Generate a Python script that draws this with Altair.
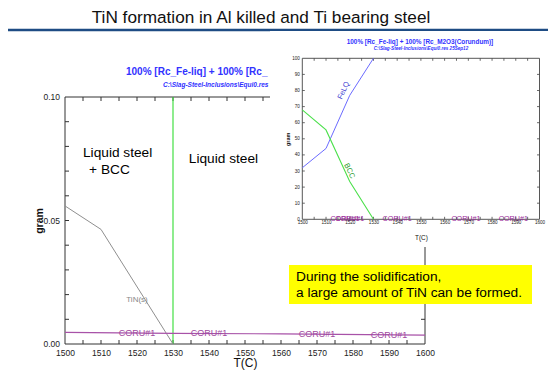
import altair as alt
import pandas as pd

# ---------------- data ----------------
SLIDE_TITLE = "TiN formation in Al killed and Ti bearing steel"
PLOT_TITLE = "100% [Rc_Fe-liq] +  100% [Rc_M2O3(Corundum)]"
PLOT_SUBTITLE = "C:\\Slag-Steel-Inclusions\\Equi0.res  25Sep12"
NOTE_LINES = ["During the solidification,", "a large amount of TiN can be formed."]

T_RANGE = [1500, 1600]
X_LABELS = [1500, 1510, 1520, 1530, 1540, 1550, 1560, 1570, 1580, 1590, 1600]
X_MINOR = [1505, 1510, 1515, 1520, 1525, 1530, 1535, 1540, 1545, 1550, 1555,
           1560, 1565, 1570, 1575, 1580, 1585, 1590, 1595]

MAIN_Y_RANGE = [0.0, 0.10]
MAIN_Y_LABELS = [0.0, 0.05, 0.10]
MAIN_Y_MINOR = [0.01, 0.02, 0.03, 0.04, 0.05, 0.06, 0.07, 0.08, 0.09]

TIN_T = [1500, 1510, 1530]
TIN_G = [0.0559, 0.0464, 0.0]
CORU_T = [1500, 1530, 1560, 1600]
CORU_G = [0.0047, 0.0043, 0.0041, 0.0036]
LIQUIDUS_T = [1530]

CORU_LABEL_T = [1520, 1540, 1570, 1590]
CORU_LABEL_G = [0.0044, 0.0043, 0.0040, 0.0037]
TIN_LABEL_T = [1520]
TIN_LABEL_G = [0.018]
REGION_TEXT = ["Liquid steel", "+ BCC", "Liquid steel"]
REGION_T = [1505.0, 1506.7, 1534.4]
REGION_G = [0.0773, 0.0704, 0.0749]

INSET_Y_RANGE = [0, 100]
INSET_Y_LABELS = [0, 10, 20, 30, 40, 50, 60, 70, 80, 90, 100]
INSET_Y_MINOR = [10, 20, 30, 40, 50, 60, 70, 80, 90]
INSET_T = [1500, 1510, 1520, 1530]
INSET_FELQ = [32, 44, 77, 100]
INSET_BCC = [68, 55.5, 23.5, 0]
INSET_CORU_LABEL_T = [1518, 1520, 1540, 1569, 1589]
INSET_CORU_LABEL_M = [0, 0, 0, 0, 0]
FELQ_LABEL = ["FeLQ", 1517.5, 80]
BCC_LABEL = ["BCC", 1519.8, 30]

# ---------------- layout (page pixels -> plot pixels) ----------------
PX0, PY0 = 65, 97
W, H = 360, 247
FONT = "Liberation Sans"


def px(v):
    return v - PX0


def py(v):
    return v - PY0


one = alt.Data(values=[{"k": 0}])


def deco_text(text, x, y, size, **kw):
    return alt.Chart(one).mark_text(text=text, fontSize=size, font=FONT, **kw).encode(
        x=alt.value(px(x)), y=alt.value(py(y)))


def deco_rect(x1, x2, y1, y2, color):
    return alt.Chart(one).mark_rect(color=color, opacity=1).encode(
        x=alt.value(px(x1)), x2=alt.value(px(x2)), y=alt.value(py(y1)), y2=alt.value(py(y2)))


# ---------------- decorations ----------------
slide_title = deco_text(SLIDE_TITLE, 261, 18, 17.2, align="center", baseline="middle", color="#111111")
underline = alt.Chart(one).mark_rule(color="#1e4c84", strokeWidth=2.4).encode(
    x=alt.value(px(0)), x2=alt.value(px(556)), y=alt.value(py(30)))
# the main plot's title is hidden behind the inset from x=270 on: cut it there
main_title = deco_text(PLOT_TITLE, 126, 72, 10, align="left", baseline="middle",
                       color="#3232ff", fontWeight="bold", limit=148, ellipsis=" ")
main_sub = deco_text(PLOT_SUBTITLE, 163, 85, 6.5, align="left", baseline="middle",
                     color="#3232ff", fontWeight="bold", fontStyle="italic", limit=111,
                     ellipsis=" ")

# ---------------- main chart ----------------
xs_main = alt.Scale(domain=T_RANGE, nice=False, zero=False)
ys_main = alt.Scale(domain=MAIN_Y_RANGE, nice=False, zero=False)
x_main = alt.X("T:Q", scale=xs_main, axis=alt.Axis(
    values=X_LABELS, tickCount=len(X_LABELS), format="d", ticks=False, domain=False, grid=False,
    labelFontSize=8.5, labelColor="#222222", labelPadding=4, labelFlush=False, labelOverlap=False,
    title="T(C)", titleFontSize=12, titleFontWeight="normal", titleColor="#111111",
    titlePadding=1, zindex=0))
y_main = alt.Y("g:Q", scale=ys_main, axis=alt.Axis(
    values=MAIN_Y_LABELS, labels=False, ticks=False, domain=False, grid=False,
    title="gram", titleFontSize=10.5, titleFontWeight="bold", titleColor="#111111",
    titlePadding=21, zindex=0))

frame_df = pd.DataFrame({"T": [T_RANGE[0]], "T2": [T_RANGE[1]],
                         "g": [MAIN_Y_RANGE[0]], "g2": [MAIN_Y_RANGE[1]]})
main_frame = alt.Chart(frame_df).mark_rect(fillOpacity=0, stroke="#333333", strokeWidth=1).encode(
    x=x_main, x2="T2:Q", y=y_main, y2="g2:Q")

# y tick labels of the main plot, placed through the y scale
ylab_df = pd.DataFrame({"g": MAIN_Y_LABELS, "T": T_RANGE[0]})
ylabels = alt.Chart(ylab_df).mark_text(align="right", baseline="middle", dx=-5, fontSize=8.5,
                                       font=FONT, color="#222222").encode(
    x=x_main, y=y_main, text=alt.Text("g:Q", format=".2f"))

tb_df = pd.DataFrame({"T": X_MINOR, "g": MAIN_Y_RANGE[0], "g2": MAIN_Y_RANGE[0]})
tt_df = pd.DataFrame({"T": X_MINOR, "g": MAIN_Y_RANGE[1], "g2": MAIN_Y_RANGE[1]})
tl_df = pd.DataFrame({"g": MAIN_Y_MINOR, "T": T_RANGE[0], "T2": T_RANGE[0]})
tr_df = pd.DataFrame({"g": MAIN_Y_MINOR, "T": T_RANGE[1], "T2": T_RANGE[1]})
tick_b = alt.Chart(tb_df).mark_rule(color="#333333", y2Offset=-4).encode(x=x_main, y=y_main, y2="g2:Q")
tick_t = alt.Chart(tt_df).mark_rule(color="#333333", y2Offset=4).encode(x=x_main, y=y_main, y2="g2:Q")
tick_l = alt.Chart(tl_df).mark_rule(color="#333333", x2Offset=4).encode(y=y_main, x=x_main, x2="T2:Q")
tick_r = alt.Chart(tr_df).mark_rule(color="#333333", x2Offset=-4).encode(y=y_main, x=x_main, x2="T2:Q")

liq_df = pd.DataFrame({"T": LIQUIDUS_T, "g": [MAIN_Y_RANGE[0]], "g2": [MAIN_Y_RANGE[1]]})
liq = alt.Chart(liq_df).mark_rule(color="#44e044", strokeWidth=1.2).encode(x=x_main, y=y_main, y2="g2:Q")
tin = alt.Chart(pd.DataFrame({"T": TIN_T, "g": TIN_G})).mark_line(
    color="#8f8f8f", strokeWidth=1).encode(x=x_main, y=y_main)
coru = alt.Chart(pd.DataFrame({"T": CORU_T, "g": CORU_G})).mark_line(
    color="#a852a8", strokeWidth=1.2).encode(x=x_main, y=y_main)
coru_lbl = alt.Chart(pd.DataFrame({"T": CORU_LABEL_T, "g": CORU_LABEL_G, "t": ["CORU#1"] * 4})).mark_text(
    color="#a04aa0", fontSize=9, font=FONT, baseline="middle").encode(x=x_main, y=y_main, text="t:N")
tin_lbl = alt.Chart(pd.DataFrame({"T": TIN_LABEL_T, "g": TIN_LABEL_G, "t": ["TiN(s)"]})).mark_text(
    color="#888888", fontSize=8, font=FONT, baseline="middle").encode(x=x_main, y=y_main, text="t:N")
region_lbl = alt.Chart(pd.DataFrame({"T": REGION_T, "g": REGION_G, "t": REGION_TEXT})).mark_text(
    color="#000000", fontSize=13.7, font=FONT, align="left", baseline="middle").encode(
    x=x_main, y=y_main, text="t:N")

main_group = alt.layer(main_frame, ylabels, tick_b, tick_t, tick_l, tick_r, liq, tin, coru,
                       coru_lbl, tin_lbl, region_lbl)

# ---------------- inset chart ----------------
inset_box = deco_rect(270, 556, 31, 247, "#ffffff")
inset_title = deco_text(PLOT_TITLE, 420, 41.7, 6.4, align="center", baseline="middle",
                        color="#3232ff", fontWeight="bold")
inset_sub = deco_text(PLOT_SUBTITLE, 421, 49.3, 4.6, align="center", baseline="middle",
                      color="#3232ff", fontWeight="bold", fontStyle="italic")

IN_L, IN_R, IN_T, IN_B = 302.3, 539.5, 58.3, 219.3
xs_in = alt.Scale(domain=T_RANGE, range=[px(IN_L), px(IN_R)], nice=False, zero=False)
ys_in = alt.Scale(domain=INSET_Y_RANGE, range=[py(IN_B), py(IN_T)], nice=False, zero=False)
x_in = alt.X("T:Q", scale=xs_in, axis=alt.Axis(
    orient="bottom", offset=-(PY0 + H - IN_B), values=X_LABELS, tickCount=len(X_LABELS),
    format="d", ticks=False, domain=False, grid=False, labelFontSize=4.6, labelColor="#222222",
    labelPadding=0.5, labelFlush=False, labelOverlap=False, title="T(C)", titleFontSize=6.4,
    titleFontWeight="normal", titleColor="#111111", titlePadding=10, zindex=1))
y_in = alt.Y("m:Q", scale=ys_in, axis=alt.Axis(
    orient="left", offset=-(IN_L - PX0), values=INSET_Y_LABELS, tickCount=len(INSET_Y_LABELS),
    format="d", ticks=False, domain=False, grid=False, labelFontSize=4.6, labelColor="#222222",
    labelPadding=3, labelOverlap=False, title="gram", titleFontSize=5.5, titleFontWeight="bold",
    titleColor="#111111", titlePadding=1.5, zindex=1))

in_frame_df = pd.DataFrame({"T": [T_RANGE[0]], "T2": [T_RANGE[1]],
                            "m": [INSET_Y_RANGE[0]], "m2": [INSET_Y_RANGE[1]]})
in_frame = alt.Chart(in_frame_df).mark_rect(fillOpacity=0, stroke="#444444", strokeWidth=0.9).encode(
    x=x_in, x2="T2:Q", y=y_in, y2="m2:Q")
itb_df = pd.DataFrame({"T": X_MINOR, "m": INSET_Y_RANGE[0], "m2": INSET_Y_RANGE[0]})
itt_df = pd.DataFrame({"T": X_MINOR, "m": INSET_Y_RANGE[1], "m2": INSET_Y_RANGE[1]})
itl_df = pd.DataFrame({"m": INSET_Y_MINOR, "T": T_RANGE[0], "T2": T_RANGE[0]})
itr_df = pd.DataFrame({"m": INSET_Y_MINOR, "T": T_RANGE[1], "T2": T_RANGE[1]})
itick_b = alt.Chart(itb_df).mark_rule(color="#444444", strokeWidth=0.8, y2Offset=-2.5).encode(
    x=x_in, y=y_in, y2="m2:Q")
itick_t = alt.Chart(itt_df).mark_rule(color="#444444", strokeWidth=0.8, y2Offset=2.5).encode(
    x=x_in, y=y_in, y2="m2:Q")
itick_l = alt.Chart(itl_df).mark_rule(color="#444444", strokeWidth=0.8, x2Offset=2.5).encode(
    y=y_in, x=x_in, x2="T2:Q")
itick_r = alt.Chart(itr_df).mark_rule(color="#444444", strokeWidth=0.8, x2Offset=-2.5).encode(
    y=y_in, x=x_in, x2="T2:Q")

felq = alt.Chart(pd.DataFrame({"T": INSET_T, "m": INSET_FELQ})).mark_line(
    color="#6b6bff", strokeWidth=1).encode(x=x_in, y=y_in)
bcc = alt.Chart(pd.DataFrame({"T": INSET_T, "m": INSET_BCC})).mark_line(
    color="#4be04b", strokeWidth=1.1).encode(x=x_in, y=y_in)
felq_lbl = alt.Chart(pd.DataFrame({"T": [FELQ_LABEL[1]], "m": [FELQ_LABEL[2]], "t": [FELQ_LABEL[0]]})).mark_text(
    color="#3a3ad0", fontSize=7.5, font=FONT, angle=295, baseline="middle").encode(x=x_in, y=y_in, text="t:N")
bcc_lbl = alt.Chart(pd.DataFrame({"T": [BCC_LABEL[1]], "m": [BCC_LABEL[2]], "t": [BCC_LABEL[0]]})).mark_text(
    color="#2a9a2a", fontSize=7.5, font=FONT, angle=63, baseline="middle").encode(x=x_in, y=y_in, text="t:N")
in_coru_lbl = alt.Chart(pd.DataFrame({"T": INSET_CORU_LABEL_T, "m": INSET_CORU_LABEL_M,
                                      "t": ["CORU#1"] * len(INSET_CORU_LABEL_T)})).mark_text(
    color="#9a2a9a", fontSize=7.2, font=FONT, baseline="middle").encode(x=x_in, y=y_in, text="t:N")

inset_group = alt.layer(in_frame, itick_b, itick_t, itick_l, itick_r, felq, bcc,
                        felq_lbl, bcc_lbl, in_coru_lbl)

# ---------------- yellow note ----------------
note_box = deco_rect(289, 532, 265, 304, "#ffff00")
note1 = deco_text(NOTE_LINES[0], 296, 277, 13.7, align="left", baseline="middle", color="#000000")
note2 = deco_text(NOTE_LINES[1], 296, 293, 13.7, align="left", baseline="middle", color="#000000")

chart = alt.layer(
    slide_title, underline, main_title, main_sub,
    main_group,
    inset_box, inset_title, inset_sub,
    inset_group,
    note_box, note1, note2,
).resolve_scale(x="independent", y="independent").properties(
    width=W, height=H,
    autosize=alt.AutoSizeParams(type="none"),
    padding={"left": PX0 - 8, "top": PY0 - 8, "right": 548 - (PX0 + W), "bottom": 380 - (PY0 + H)},
    background="#ffffff",
).configure_view(stroke="transparent").configure_text(font=FONT).configure_axis(
    labelFont=FONT, titleFont=FONT)

chart.save("out.html", embed_options={"renderer": "svg", "actions": False})
